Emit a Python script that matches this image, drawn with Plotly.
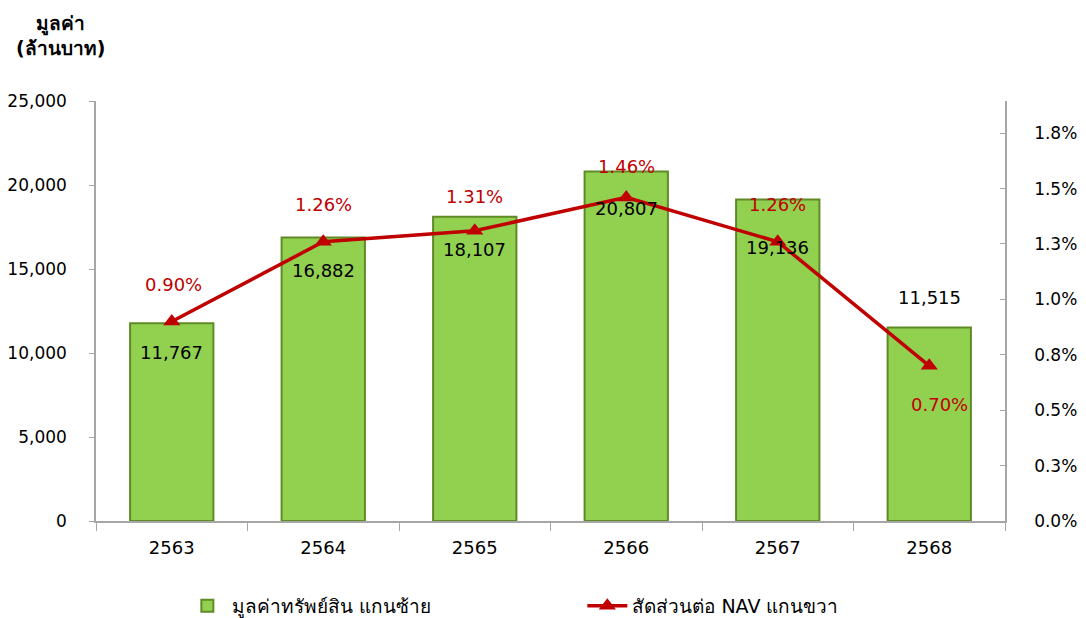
import plotly.graph_objects as go

years = ["2563", "2564", "2565", "2566", "2567", "2568"]
asset_values = [11767, 16882, 18107, 20807, 19136, 11515]
nav_ratio = [0.90, 1.26, 1.31, 1.46, 1.26, 0.70]  # percent

left_ticks = [0, 5000, 10000, 15000, 20000, 25000]
right_ticks = [0, 0.25, 0.5, 0.75, 1.0, 1.25, 1.5, 1.75]
right_ticktext = ["0.0%", "0.3%", "0.5%", "0.8%", "1.0%", "1.3%", "1.5%", "1.8%"]

# label offsets (px, positive = up) for data labels
bar_label_shift = [-29, -33, -33, -37, -48, 30]
pct_label_shift = [37, 37, 34, 31, 37, -39]
pct_label_xshift = [2, 0, 0, 0, 0, 10]

FONT = "DejaVu Sans"
RED = "#C00000"
AXIS = "#A6A6A6"

fig = go.Figure()
fig.add_trace(go.Bar(
    x=years, y=asset_values, name="มูลค่าทรัพย์สิน แกนซ้าย",
    marker=dict(color="#92D050", line=dict(color="#5F8A26", width=2)),
    yaxis="y",
))
fig.add_trace(go.Scatter(
    x=years, y=nav_ratio, name="สัดส่วนต่อ NAV แกนขวา",
    mode="lines+markers",
    line=dict(color=RED, width=3.5),
    marker=dict(symbol="triangle-up", size=15, color=RED),
    yaxis="y2",
))

annotations = []
for i, v in enumerate(asset_values):
    annotations.append(dict(
        x=i, y=v, xref="x", yref="y", text=f"{v:,}", showarrow=False,
        yshift=bar_label_shift[i], font=dict(family=FONT, size=18, color="black"),
    ))
for i, p in enumerate(nav_ratio):
    annotations.append(dict(
        x=i, y=p, xref="x", yref="y2", text=f"{p:.2f}%", showarrow=False,
        yshift=pct_label_shift[i], xshift=pct_label_xshift[i],
        font=dict(family=FONT, size=18, color=RED),
    ))
annotations.append(dict(
    x=-0.039, y=1.155, xref="paper", yref="paper", xanchor="center", yanchor="middle",
    text="<b>มูลค่า<br>(ล้านบาท)</b>", showarrow=False,
    font=dict(family=FONT, size=19, color="black"),
))

fig.update_layout(
    width=1086, height=618,
    margin=dict(l=96, r=81, t=101, b=97, autoexpand=False),
    paper_bgcolor="white", plot_bgcolor="white",
    bargap=0.45,
    showlegend=True,
    legend=dict(
        orientation="h", x=0.095, xanchor="left", y=-0.202, yanchor="middle",
        font=dict(family="Liberation Sans Narrow, " + FONT, size=19, color="black"),
        entrywidth=345, itemwidth=40,
    ),
    xaxis=dict(
        type="category", range=[-0.5, 5.5], showline=True, linecolor=AXIS, linewidth=1.5,
        ticks="outside", tickson="boundaries", ticklen=8, tickcolor=AXIS,
        ticklabelstandoff=10, automargin=False,
        tickfont=dict(family=FONT, size=18, color="black"), tickangle=0,
        showgrid=False, zeroline=False,
    ),
    yaxis=dict(
        range=[0, 25000], tickvals=left_ticks, tickformat=",d",
        showline=True, linecolor=AXIS, linewidth=1.5, automargin=False,
        ticks="outside", ticklen=5, tickcolor=AXIS, ticklabelstandoff=19,
        tickfont=dict(family=FONT, size=17, color="black"),
        showgrid=False, zeroline=False,
    ),
    yaxis2=dict(
        overlaying="y", side="right", range=[0, 1.895],
        tickvals=right_ticks, ticktext=right_ticktext, automargin=False,
        showline=True, linecolor=AXIS, linewidth=1.5,
        ticks="inside", ticklen=5, tickcolor=AXIS, ticklabelstandoff=24,
        tickfont=dict(family=FONT, size=17, color="black"),
        showgrid=False, zeroline=False,
    ),
    annotations=annotations,
)

fig.write_html("out.html")
